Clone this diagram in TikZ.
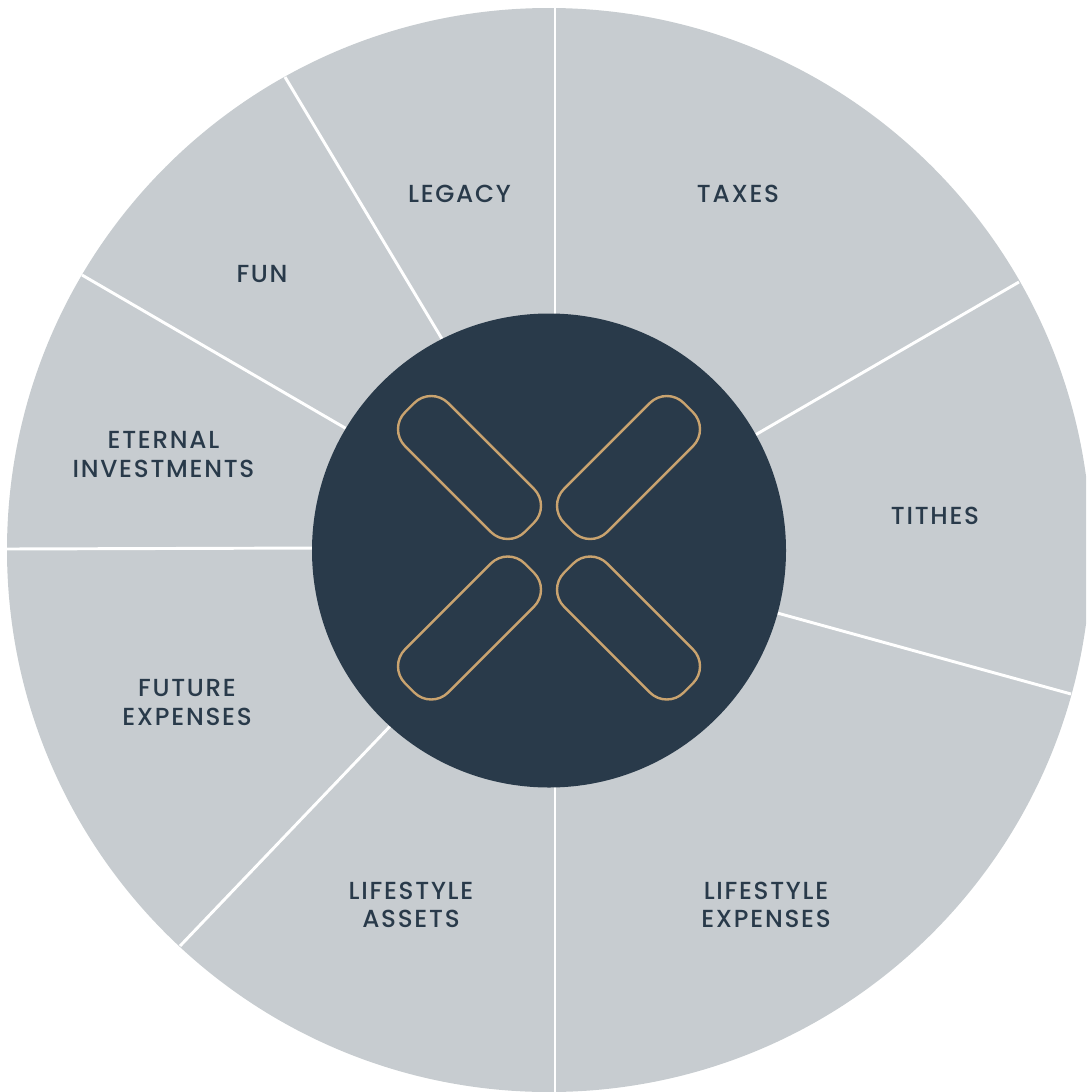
\documentclass[tikz,border=0pt]{standalone}
\usepackage{fontspec}
\setmainfont[LetterSpace=7]{Poppins Medium}
\definecolor{wheelgrey}{HTML}{C7CCD0}
\definecolor{hubnavy}{HTML}{293A4A}
\definecolor{pillgold}{HTML}{C9A36F}
\tikzset{l/.style={font=\fontsize{18.5}{21.4}\selectfont,text=hubnavy,align=center,inner sep=0pt}}
\tikzset{spoke/.style={white,line width=2.2pt}}
\tikzset{pill/.style={draw=pillgold,line width=1.8pt,rounded corners=18pt,minimum width=127pt,minimum height=45.75pt,inner sep=0pt}}

\begin{document}
\begin{tikzpicture}[x=0.75pt,y=-0.75pt]
        \useasboundingbox[clip] (0,0) rectangle (1086,1092);
        \fill[wheelgrey] (549,550) circle [radius=542*0.75pt];
        % spokes
        \draw[spoke] (555,8)--(555,320);
        \draw[spoke] (285,77)--(445,344);
        \draw[spoke] (82,275)--(352,432);
        \draw[spoke] (7,549)--(320,548);
        \draw[spoke] (180,946)--(395,721);
        \draw[spoke] (555,780)--(555,1092);
        \draw[spoke] (1071,694)--(770,611);
        \draw[spoke] (1019,282)--(750,438);
        \fill[hubnavy] (549,550.5) circle [radius=237*0.75pt];
        \node[pill,rotate=-45] (TL) at (469.5,467.5) {};
        \node[pill,rotate=45] (TR) at (628.5,467.5) {};
        \node[pill,rotate=45] (BL) at (469.5,628) {};
        \node[pill,rotate=-45] (BR) at (628.5,628) {};
        \begin{scope}[every node/.style={l}]
          \node (legacy) at (459.5,194) {LEGACY};
          \node (taxes) at (738,194) {TAXES};
          \node (fun) at (262,274) {FUN};
          \node (tithes) at (935,516) {TITHES};
          \node (eternal) at (163.5,454.5) {ETERNAL\\INVESTMENTS};
          \node (future) at (187,702.5) {FUTURE\\EXPENSES};
          \node (assets) at (411,905) {LIFESTYLE\\ASSETS};
          \node (expenses) at (766,905) {LIFESTYLE\\EXPENSES};
        \end{scope}
      \end{tikzpicture}
\end{document}
